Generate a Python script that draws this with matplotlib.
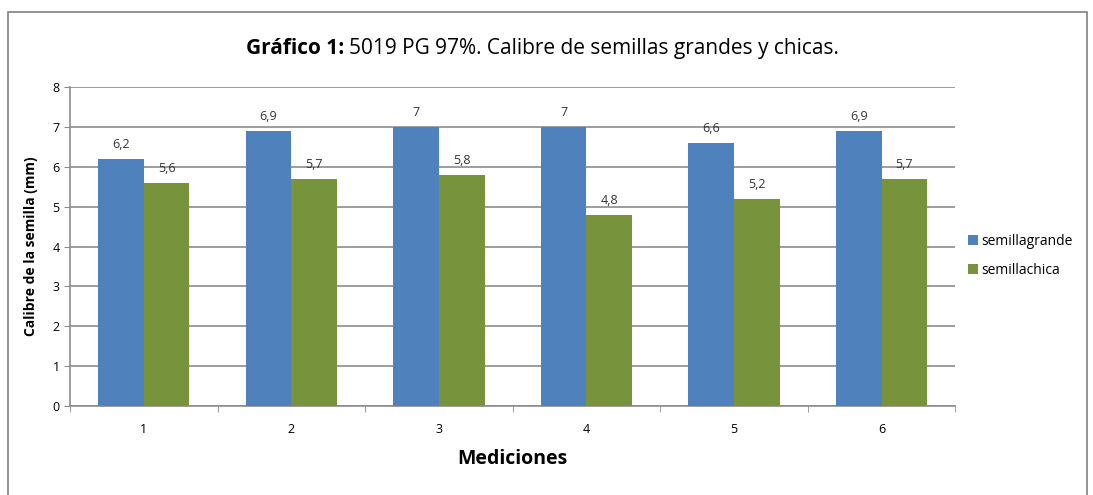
import numpy as np
import matplotlib.pyplot as plt
from matplotlib.patches import Rectangle

plt.rcParams['font.family'] = ['Open Sans', 'DejaVu Sans']

# data
mediciones = ['1', '2', '3', '4', '5', '6']
semilla_grande = [6.2, 6.9, 7.0, 7.0, 6.6, 6.9]
semilla_chica = [5.6, 5.7, 5.8, 4.8, 5.2, 5.7]

BLUE = '#4F81BD'
GREEN = '#77933C'
GRID = '#8C8C8C'

fig = plt.figure(figsize=(10.93, 4.95), dpi=100)
ax = fig.add_axes([0.064, 0.180, 0.810, 0.644])

x = np.arange(len(mediciones))
w = 0.31
b1 = ax.bar(x - w/2, semilla_grande, w, color=BLUE, label='semillagrande', zorder=3)
b2 = ax.bar(x + w/2, semilla_chica, w, color=GREEN, label='semillachica', zorder=3)

def fmt(v):
    return ('%g' % v).replace('.', ',')

for bars, vals in [(b1, semilla_grande), (b2, semilla_chica)]:
    for r, v in zip(bars, vals):
        ax.text(r.get_x() + r.get_width()/2, v + 0.2, fmt(v), ha='center', va='bottom',
                fontsize=9, color='#333333', zorder=2)

ax.set_xlim(-0.5, len(mediciones) - 0.5)
ax.set_ylim(0, 8)
ax.set_yticks(range(0, 9))
ax.set_xticks(x)
ax.set_xticklabels(mediciones, fontsize=9)
ax.tick_params(axis='x', length=0, pad=12)
ax.set_xticks(np.arange(-0.5, len(mediciones)), minor=True)
ax.tick_params(axis='x', which='minor', length=4, color=GRID, direction='out')
ax.tick_params(axis='y', labelsize=9, length=4, color=GRID, direction='out')
ax.yaxis.grid(True, color=GRID, linewidth=1.2, zorder=0)
for s in ['top', 'right']:
    ax.spines[s].set_visible(False)
for s in ['left', 'bottom']:
    ax.spines[s].set_color(GRID)
    ax.spines[s].set_linewidth(1.2)

ax.set_ylabel('Calibre de la semilla (mm)', fontsize=10, fontweight='bold', labelpad=10)
ax.set_xlabel('Mediciones', fontsize=14, fontweight='bold', labelpad=10)

# title: bold prefix followed by regular text
t1 = fig.text(0.225, 0.902, 'Gráfico 1:', fontsize=15, fontweight='bold', ha='left', va='center')
fig.canvas.draw()
bb = t1.get_window_extent()
fig.text(bb.x1 / fig.bbox.width + 0.004, 0.902, '5019 PG 97%. Calibre de semillas grandes y chicas.',
         fontsize=15, ha='left', va='center')

ax.legend(loc='center left', bbox_to_anchor=(1.0, 0.47), frameon=False, fontsize=10,
          handlelength=0.7, handleheight=0.7, handletextpad=0.3, labelspacing=1.0)

fig.patches.append(Rectangle((8/1093, -0.01), 1079/1093, 483/495 + 0.01, transform=fig.transFigure,
                             fill=False, edgecolor='#808080', linewidth=1.2))

fig.savefig('out.png', dpi=100)
